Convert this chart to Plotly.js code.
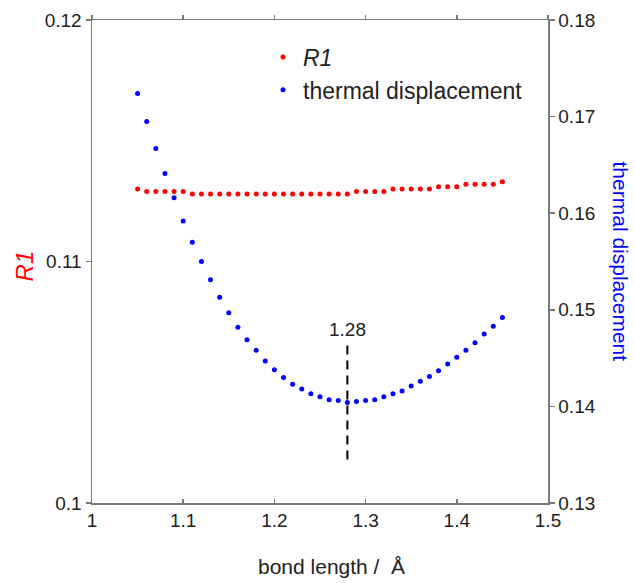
<!DOCTYPE html>
<html>
<head>
<meta charset="utf-8">
<script src="https://cdn.plot.ly/plotly-3.0.1.min.js"></script>
<style>html,body{margin:0;padding:0;background:#fff}#chart{width:635px;height:583px}</style>
</head>
<body>
<div id="chart"></div>
<script>
const bondLength = [1.05,1.06,1.07,1.08,1.09,1.10,1.11,1.12,1.13,1.14,1.15,1.16,1.17,1.18,1.19,1.20,1.21,1.22,1.23,1.24,1.25,1.26,1.27,1.28,1.29,1.30,1.31,1.32,1.33,1.34,1.35,1.36,1.37,1.38,1.39,1.40,1.41,1.42,1.43,1.44,1.45];
const r1Values = [0.1130,0.1129,0.1129,0.1129,0.1129,0.1129,0.1128,0.1128,0.1128,0.1128,0.1128,0.1128,0.1128,0.1128,0.1128,0.1128,0.1128,0.1128,0.1128,0.1128,0.1128,0.1128,0.1128,0.1128,0.1129,0.1129,0.1129,0.1129,0.1130,0.1130,0.1130,0.1130,0.1130,0.1131,0.1131,0.1131,0.1132,0.1132,0.1132,0.1132,0.1133];
const thermalValues = [0.1724,0.1695,0.1667,0.1641,0.1616,0.1592,0.1570,0.1550,0.1531,0.1513,0.1497,0.1482,0.1469,0.1458,0.1447,0.1438,0.1430,0.1423,0.1418,0.1413,0.1410,0.1407,0.1406,0.1404,0.1405,0.1406,0.1407,0.1410,0.1413,0.1416,0.1421,0.1426,0.1431,0.1437,0.1444,0.1451,0.1458,0.1466,0.1475,0.1483,0.1492];
const minimumX = [1.28, 1.28];
const minimumY = [0.1463, 0.1342];
const minimumLabel = '1.28';
const xTickVals = [1, 1.1, 1.2, 1.3, 1.4, 1.5];
const xTickText = ['1', '1.1', '1.2', '1.3', '1.4', '1.5'];
const r1TickVals = [0.10, 0.11, 0.12];
const r1TickText = ['0.1', '0.11', '0.12'];
const thermalTickVals = [0.13, 0.14, 0.15, 0.16, 0.17, 0.18];
const thermalTickText = ['0.13', '0.14', '0.15', '0.16', '0.17', '0.18'];

const RED = '#ff0000', BLUE = '#0000ff', AX = '#7a7a7a', TXT = '#222222';
const FONT = 'Liberation Sans, Arial, sans-serif';

const traces = [
  {x: bondLength, y: r1Values, type: 'scatter', mode: 'markers', name: '<i>R1</i>',
   marker: {color: RED, size: 5}, xaxis: 'x', yaxis: 'y'},
  {x: bondLength, y: thermalValues, type: 'scatter', mode: 'markers', name: 'thermal displacement',
   marker: {color: BLUE, size: 5}, xaxis: 'x', yaxis: 'y2'},
  {x: minimumX, y: minimumY, type: 'scatter', mode: 'lines', showlegend: false,
   line: {color: '#000', width: 2, dash: '9px,6px'}, xaxis: 'x', yaxis: 'y2', hoverinfo: 'skip'},
  {x: [], y: [], type: 'scatter', mode: 'markers', showlegend: false, xaxis: 'x2', yaxis: 'y'}
];

const layout = {
  width: 635, height: 583,
  margin: {l: 92, r: 87, t: 20, b: 80},
  paper_bgcolor: '#fff', plot_bgcolor: '#fff',
  font: {family: FONT, size: 19, color: TXT},
  showlegend: true,
  legend: {x: 0.375, y: 0.968, xanchor: 'left', yanchor: 'top', bgcolor: 'rgba(0,0,0,0)',
           font: {family: FONT, size: 23}, tracegroupgap: 0},
  xaxis: {range: [1, 1.5], tickvals: xTickVals, ticktext: xTickText, ticks: 'inside', ticklen: 4,
          tickcolor: AX, tickwidth: 1.5, showline: true, linecolor: AX, linewidth: 1.5,
          showgrid: false, zeroline: false, tickfont: {size: 19, color: TXT}},
  xaxis2: {range: [1, 1.5], overlaying: 'x', side: 'top', anchor: 'y', tickvals: xTickVals,
           showticklabels: false, ticks: 'outside', ticklen: 4, tickcolor: AX, tickwidth: 1.5,
           showline: true, linecolor: AX, linewidth: 1.5, showgrid: false, zeroline: false},
  yaxis: {range: [0.1, 0.12], tickvals: r1TickVals, ticktext: r1TickText, ticks: 'outside', ticklen: 5,
          tickcolor: AX, tickwidth: 1.5, showline: true, linecolor: AX, linewidth: 1.5,
          showgrid: false, zeroline: false, tickfont: {size: 19, color: TXT}},
  yaxis2: {range: [0.13, 0.18], overlaying: 'y', side: 'right', anchor: 'x', tickvals: thermalTickVals,
           ticktext: thermalTickText, ticks: 'outside', ticklen: 5, tickcolor: AX, tickwidth: 1.5,
           showline: true, linecolor: AX, linewidth: 1.5, showgrid: false, zeroline: false,
           tickfont: {size: 19, color: TXT}},
  annotations: [
    {text: '<i>R1</i>', xref: 'paper', yref: 'paper', x: -0.149, y: 0.49, textangle: -90,
     showarrow: false, font: {family: FONT, size: 24, color: RED}, xanchor: 'center', yanchor: 'middle'},
    {text: 'thermal displacement', xref: 'paper', yref: 'paper', x: 1.16, y: 0.5, textangle: 90,
     showarrow: false, font: {family: FONT, size: 21, color: BLUE}, xanchor: 'center', yanchor: 'middle'},
    {text: 'bond length /  Å', xref: 'paper', yref: 'paper', x: 0.526, y: -0.1325,
     showarrow: false, font: {family: FONT, size: 21, color: TXT}, xanchor: 'center', yanchor: 'middle'},
    {text: minimumLabel, xref: 'x', yref: 'y2', x: minimumX[0], y: minimumY[0], yanchor: 'bottom',
     yshift: 4, showarrow: false, font: {family: FONT, size: 19, color: TXT}}
  ]
};

Plotly.newPlot('chart', traces, layout, {displayModeBar: false, staticPlot: true});
</script>
</body>
</html>
